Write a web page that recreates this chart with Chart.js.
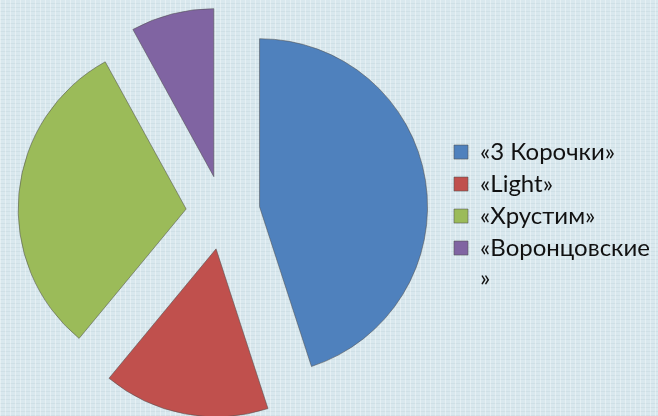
<!DOCTYPE html>
<html>
<head>
<meta charset="utf-8">
<script src="https://cdn.jsdelivr.net/npm/chart.js@4"></script>
<style>
  html, body { margin: 0; padding: 0; }
  #wrap {
    width: 658px; height: 416px; position: relative;
    background-color: #d9e8ee;
    background-image:
      repeating-linear-gradient(90deg, rgba(255,255,255,0.35) 0 1px, transparent 1px 5px),
      repeating-linear-gradient(0deg, rgba(120,150,160,0.10) 0 1px, transparent 1px 4px);
  }
</style>
</head>
<body>
<div id="wrap"><canvas id="pie"></canvas></div>
<script>
// slice names (the last one breaks onto two lines in the legend)
const labels = ['«3 Корочки»', '«Light»', '«Хрустим»', ['«Воронцовские', '»']]
const values = [45, 16, 31, 8]
const colors = ['#4f81bd', '#c0504d', '#9bbb59', '#8064a2']
const EXPLODE = 37

// push every slice out from the centre along its middle angle
const explode = {
  id: 'explode',
  afterDatasetsUpdate(chart) {
    chart.getDatasetMeta(0).data.forEach(arc => {
      const mid = (arc.startAngle + arc.endAngle) / 2
      arc.x += Math.cos(mid) * EXPLODE
      arc.y += Math.sin(mid) * EXPLODE
    })
  }
}

const data = {
  labels: labels,
  datasets: [{
    data: values,
    backgroundColor: colors,
    borderColor: 'rgba(80,80,80,0.55)',
    borderWidth: 1
  }]
}

const config = {
  type: 'pie',
  data: data,
  plugins: [explode],
  options: {
    responsive: true,
    maintainAspectRatio: false,
    animation: false,
    layout: { padding: { left: -1, right: -2, top: 44, bottom: 35 } },
    plugins: {
      tooltip: { enabled: false },
      legend: {
        position: 'right',
        // empty title only to nudge the list down a bit
        title: { display: true, text: '', font: { size: 0 }, padding: { top: 12, bottom: 0 } },
        labels: {
          boxWidth: 14,
          boxHeight: 14,
          padding: 8,
          color: '#111',
          font: { family: 'Lato', size: 24, lineHeight: 1.27 }
        }
      }
    }
  }
}

let ctx = document.getElementById('pie').getContext('2d')
new Chart(ctx, config)
</script>
</body>
</html>
